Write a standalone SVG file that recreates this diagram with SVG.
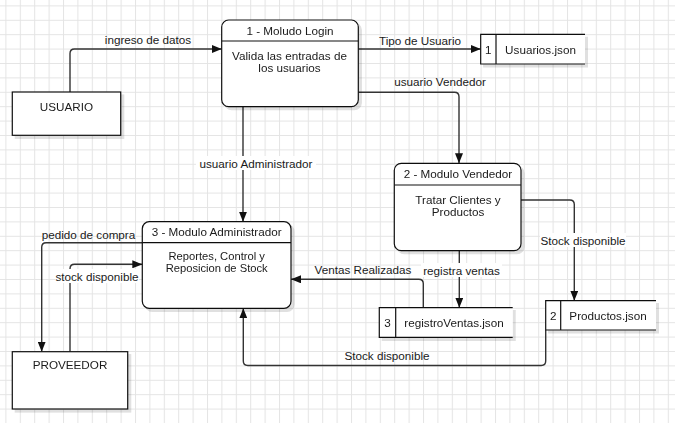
<svg xmlns="http://www.w3.org/2000/svg" width="675" height="423" viewBox="0 0 675 423">
<defs>
<pattern id="grid" x="5.4" y="5.4" width="14.4" height="14.4" patternUnits="userSpaceOnUse">
<path d="M0 0.5 H14.4 M0.5 0 V14.4" stroke="#e4e4e4" stroke-width="1" fill="none"/>
</pattern>
<marker id="arr" viewBox="0 0 10 8" refX="10" refY="4" markerWidth="10" markerHeight="8" markerUnits="userSpaceOnUse" orient="auto">
<path d="M0 0 L10 4 L0 8 Z" fill="#111"/>
</marker>
<filter id="sh" x="-10%" y="-10%" width="130%" height="140%">
<feDropShadow dx="3" dy="3" stdDeviation="0.6" flood-color="#000" flood-opacity="0.12"/>
</filter>
</defs>
<style>
text{font-family:"Liberation Sans",Arial,sans-serif;font-size:11.7px;fill:#1a1a1a;text-anchor:middle;dominant-baseline:central}
text.tight{font-size:11.2px}
.box{fill:#fff;stroke:#111;stroke-width:1.2}
.ln{fill:none;stroke:#111;stroke-width:1.2}
.con{fill:none;stroke:#333;stroke-width:1.4;marker-end:url(#arr)}
.lbg{fill:#fff}
</style>
<rect width="675" height="423" fill="#fff"/>
<rect width="675" height="423" fill="url(#grid)"/>

<g id="connectors">
<path class="con" d="M70,92 V53.5 Q70,49 74.5,49 H221.7"/>
<path class="con" d="M358.3,49 H480.7"/>
<path class="con" d="M358.3,92.3 H454.5 Q459,92.3 459,96.8 V163.3"/>
<path class="con" d="M243,106.7 V221.7"/>
<path class="con" d="M521,200 H569.8 Q574.3,200 574.3,204.5 V300.7"/>
<path class="con" d="M459.3,250.7 V307.7"/>
<path class="con" d="M423.3,307.7 V283.8 Q423.3,279.3 418.8,279.3 H291"/>
<path class="con" d="M545.7,330 V361 Q545.7,365.5 541.2,365.5 H247.8 Q243.3,365.5 243.3,361 V308.3"/>
<path class="con" d="M142.3,242.7 H46.2 Q41.7,242.7 41.7,247.2 V351.7"/>
<path class="con" d="M70,351.7 V268.8 Q70,264.3 74.5,264.3 H142.3"/>
<text x="148" y="39.5">ingreso de datos</text>
<text x="420" y="40">Tipo de Usuario</text>
<text x="440" y="81.5">usuario Vendedor</text>
<rect class="lbg" x="196" y="156" width="120" height="14"/>
<text x="256" y="163">usuario Administrador</text>
<rect class="lbg" x="540" y="233" width="86" height="14"/>
<text x="583" y="240">Stock disponible</text>
<rect class="lbg" x="421" y="263" width="81" height="14"/>
<text x="461.5" y="270">registra ventas</text>
<text x="363" y="269">Ventas Realizadas</text>
<text x="387" y="355.5">Stock disponible</text>
<text x="88.5" y="234">pedido de compra</text>
<rect class="lbg" x="55" y="269" width="84" height="14"/>
<text x="97" y="276">stock disponible</text>
</g>

<g id="usuario" filter="url(#sh)">
<rect class="box" x="12.3" y="92" width="108.4" height="43.3"/>
<text x="66.5" y="106">USUARIO</text>
</g>

<g id="login" filter="url(#sh)">
<rect class="box" x="221.7" y="20" width="136.6" height="86.7" rx="7"/>
<path class="ln" d="M221.7,41 H358.3"/>
<text x="290" y="30.5">1 - Moludo Login</text>
<text x="289.5" y="55">Valida las entradas de</text>
<text x="289.5" y="67">los usuarios</text>
</g>

<g id="usuarios-json" filter="url(#sh)">
<rect x="480.7" y="34.3" width="104.3" height="29.7" fill="#fff"/>
<path class="ln" d="M585,34.3 H480.7 V64 H585 M496,34.3 V64"/>
<text x="488.3" y="49">1</text>
<text x="540.5" y="49">Usuarios.json</text>
</g>

<g id="vendedor" filter="url(#sh)">
<rect class="box" x="394.3" y="163.3" width="126.7" height="87.4" rx="7"/>
<path class="ln" d="M394.3,185 H521"/>
<text x="458" y="173.5">2 - Modulo Vendedor</text>
<text x="458" y="199">Tratar Clientes y</text>
<text x="458" y="211">Productos</text>
</g>

<g id="admin" filter="url(#sh)">
<rect class="box" x="142.3" y="221.7" width="148.7" height="86.6" rx="7"/>
<path class="ln" d="M142.3,242.7 H291"/>
<text x="216.7" y="231">3 - Modulo Administrador</text>
<text class="tight" x="216.7" y="255.5">Reportes, Control y</text>
<text class="tight" x="216.7" y="268.2">Reposicion de Stock</text>
</g>

<g id="registro-ventas" filter="url(#sh)">
<rect x="379.3" y="307.7" width="133.4" height="29.6" fill="#fff"/>
<path class="ln" d="M512.7,307.7 H379.3 V337.3 H512.7 M395.7,307.7 V337.3"/>
<text x="387.5" y="322.5">3</text>
<text x="454" y="322.5">registroVentas.json</text>
</g>

<g id="productos-json" filter="url(#sh)">
<rect x="545.7" y="300.7" width="110.3" height="29.3" fill="#fff"/>
<path class="ln" d="M656,300.7 H545.7 V330 H656 M560.7,300.7 V330"/>
<text x="553.2" y="315.5">2</text>
<text x="608" y="315.5">Productos.json</text>
</g>

<g id="proveedor" filter="url(#sh)">
<rect class="box" x="12.3" y="351.7" width="115.4" height="57.3"/>
<text x="70" y="364.5">PROVEEDOR</text>
</g>
</svg>
